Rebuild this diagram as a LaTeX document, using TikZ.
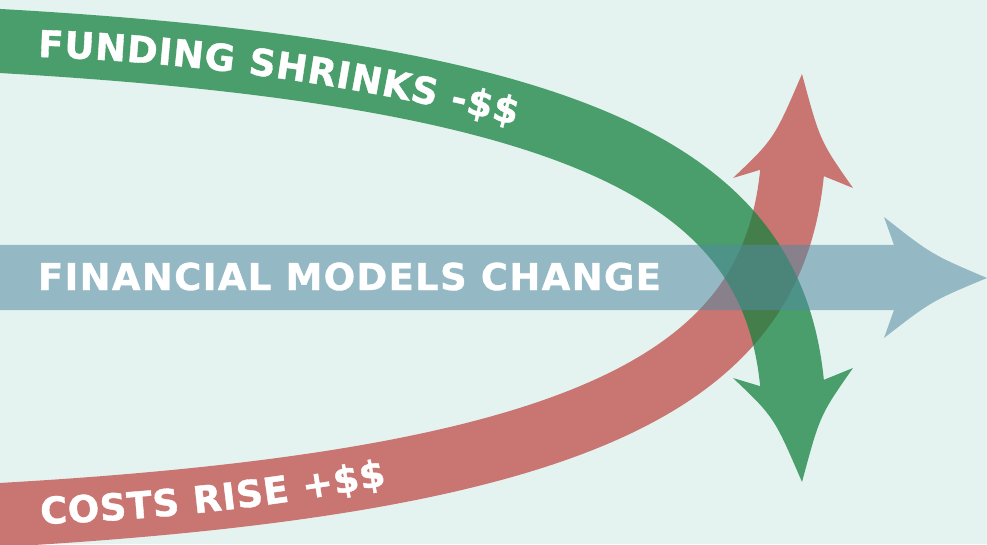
\documentclass[tikz,border=0pt]{standalone}
\usepackage{fontspec}
\setmainfont{DejaVu Sans}[BoldFeatures={FakeBold=1}]
\usetikzlibrary{calc}
\definecolor{bgc}{RGB}{228,243,240}
\definecolor{redc}{RGB}{201,117,114}
\definecolor{greenc}{RGB}{23,130,63}
\definecolor{bluec}{RGB}{83,139,160}
\newcommand{\bandfnt}{\bfseries\fontsize{37}{40}\selectfont}
\tikzset{
  band/.style={line width=64pt, line cap=butt},
  bandlbl/.style={font=\bandfnt, text=white, inner sep=0pt, outer sep=0pt, anchor=base},
  charlbl/.style={bandlbl, inner xsep=-1.5pt},
}
\newlength{\chw}
\newsavebox{\chbox}
% #1 centre, #2 baseline radius, #3 start angle, #4 sign (+1 ccw, -1 cw), #5 name prefix, #6 tracking (pt), #7 characters
\newcommand{\arctext}[7]{%
  \xdef\curang{#3}%
  \foreach \ch [count=\k] in {#7}{%
    \node[charlbl] at (0,0) {\global\setbox\chbox=\hbox{\ch}};%
    \global\chw=\wd\chbox
    \pgfmathsetmacro\dang{(\chw+#6)*57.29578/(#2)}%
    \pgfmathsetmacro\midang{\curang+(#4)*\dang/2}%
    \pgfmathsetmacro\rot{\midang+(#4)*90}%
    \node[charlbl, rotate=\rot] (#5\k) at ($(#1)+(\midang:#2)$) {\ch};
    \pgfmathsetmacro\nextang{\curang+(#4)*\dang}%
    \xdef\curang{\nextang}%
  }%
}
\begin{document}
\begin{tikzpicture}[x=1pt,y=1pt]
\useasboundingbox (0,0) rectangle (987,544);
\fill[bgc] (0,0) rectangle (987,544);
\clip (0,0) rectangle (987,544);
% red arrow (costs rise)
\coordinate (rs) at (0,29);
\coordinate (re) at (792,371);
\draw[band, redc] (-20,27.9) -- (rs) .. controls (600,63) and (772,171) .. (re) -- (793,381);
\fill[redc] (760.16,374.18) -- (733,366) .. controls (774,405) .. (802,470) .. controls (820,403) .. (853,356) -- (823.84,367.82) -- cycle;
% green arrow (funding shrinks)
\coordinate (gs) at (0,503);
\coordinate (ge) at (792,161);
\begin{scope}[transparency group, opacity=0.75]
\draw[band, greenc] (-20,504.1) -- (gs) .. controls (600,469) and (772,361) .. (ge) -- (793,151);
\fill[greenc] (760.16,157.82) -- (733,166) .. controls (774,127) .. (802,62) .. controls (820,129) .. (853,176) -- (823.84,164.18) -- cycle;
\end{scope}
% blue arrow (financial models change)
\fill[bluec, opacity=0.55] (-5,234) -- (894,234) -- (884,206) .. controls (931.5,242.9) .. (987,266) .. controls (931.5,289.6) .. (884,327) -- (894,299) -- (-5,299) -- cycle;
% labels
\coordinate (gc) at (-38.8,-1755);
\coordinate (rc) at (-38.8,2287);
\arctext{gc}{2243.5}{88.05}{-1}{g}{0.7}{F,U,N,D,I,N,G,~,S,H,R,I,N,K,S,~,-,\$,\$}
\arctext{rc}{2268.5}{-88.0}{1}{r}{0.7}{C,O,S,T,S,~,R,I,S,E,~,+,\$,\$}
\node[bandlbl, anchor=base west, font=\bandfnt\addfontfeatures{LetterSpace=3.6}] (fin) at (38,254) {FINANCIAL MODELS CHANGE};
\end{tikzpicture}
\end{document}
